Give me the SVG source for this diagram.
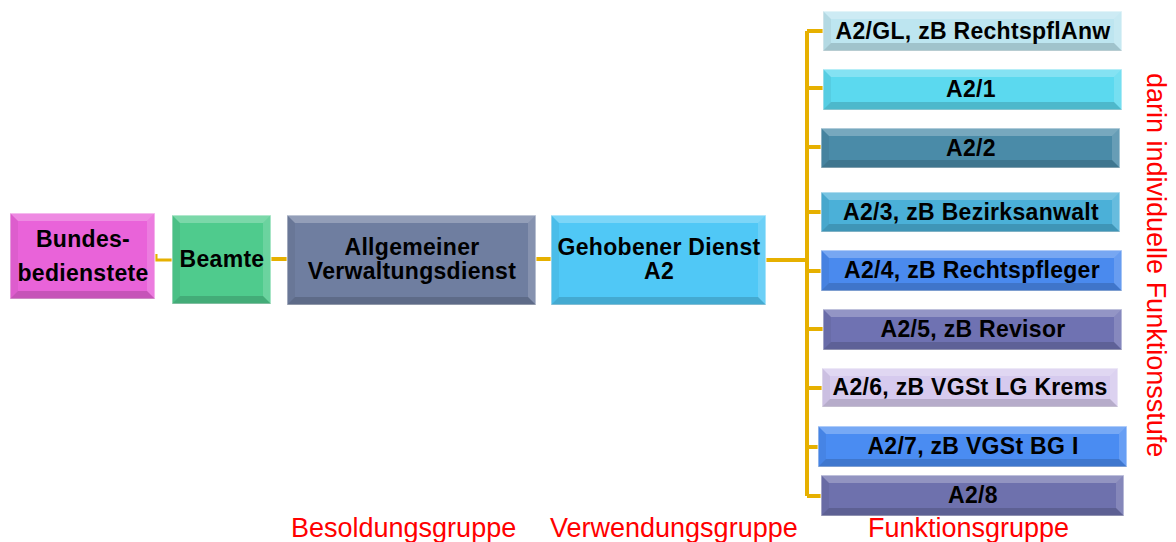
<svg xmlns="http://www.w3.org/2000/svg" width="1176" height="542" viewBox="0 0 1176 542">
<style>
.bx{stroke:#ffffff;stroke-opacity:.55;stroke-width:1.5}
.t{fill:#fff;fill-opacity:.25}
.r{fill:#fff;fill-opacity:.16}
.l{fill:#000;fill-opacity:.05}
.b{fill:#000;fill-opacity:.15}
.lbl{font-family:"Liberation Sans",Arial,sans-serif;font-weight:bold;font-size:23px;letter-spacing:0.3px;fill:#000;text-anchor:middle}
.red{font-family:"Liberation Sans",Arial,sans-serif;font-size:27px;fill:#ff0000}
.con{fill:none;stroke:#e6b000;stroke-width:4}
</style>
<rect width="1176" height="542" fill="#ffffff"/>
<g id="connectors">
<path class="con" d="M807 31 V496 M807 31 H823 M807 88 H823 M807 147 H821 M807 212 H821 M807 271 H821 M807 329 H823 M807 388 H822 M807 447 H818 M807 496 H821 M766 260 H807 M536 259 H551 M271 259 H287"/>
<path class="con" style="stroke-width:3" d="M156 254 V260 H172"/>
</g>
<g id="bundesbedienstete">
<rect class="bx" x="10" y="213" width="145" height="86" fill="#e963d9"/>
<polygon class="t" points="10,213 155,213 147,221 18,221"/><polygon class="r" points="155,213 155,299 147,291 147,221"/><polygon class="b" points="10,299 155,299 147,291 18,291"/><polygon class="l" points="10,213 10,299 18,291 18,221"/>
<text class="lbl" x="83" y="247">Bundes-</text><text class="lbl" x="83" y="281">bedienstete</text>
</g>
<g id="beamte">
<rect class="bx" x="172" y="215" width="99" height="89" fill="#4fcb8d"/>
<polygon class="t" points="172,215 271,215 263,223 180,223"/><polygon class="r" points="271,215 271,304 263,296 263,223"/><polygon class="b" points="172,304 271,304 263,296 180,296"/><polygon class="l" points="172,215 172,304 180,296 180,223"/>
<text class="lbl" x="222" y="267">Beamte</text>
</g>
<g id="allgemeiner">
<rect class="bx" x="287" y="215" width="249" height="90" fill="#6f7ea0"/>
<polygon class="t" points="287,215 536,215 528,223 295,223"/><polygon class="r" points="536,215 536,305 528,297 528,223"/><polygon class="b" points="287,305 536,305 528,297 295,297"/><polygon class="l" points="287,215 287,305 295,297 295,223"/>
<text class="lbl" x="412" y="255">Allgemeiner</text><text class="lbl" x="412" y="279">Verwaltungsdienst</text>
</g>
<g id="gehobener">
<rect class="bx" x="551" y="215" width="215" height="90" fill="#50c8f6"/>
<polygon class="t" points="551,215 766,215 758,223 559,223"/><polygon class="r" points="766,215 766,305 758,297 758,223"/><polygon class="b" points="551,305 766,305 758,297 559,297"/><polygon class="l" points="551,215 551,305 559,297 559,223"/>
<text class="lbl" x="659" y="255">Gehobener Dienst</text><text class="lbl" x="659" y="279">A2</text>
</g>
<g id="a2gl">
<rect class="bx" x="823" y="11" width="299" height="40" fill="#bde5f0"/>
<polygon class="t" points="823,11 1122,11 1114,19 831,19"/><polygon class="r" points="1122,11 1122,51 1114,43 1114,19"/><polygon class="b" points="823,51 1122,51 1114,43 831,43"/><polygon class="l" points="823,11 823,51 831,43 831,19"/>
<text class="lbl" x="973" y="39">A2/GL, zB RechtspflAnw</text>
</g>
<g id="a21">
<rect class="bx" x="823" y="69" width="299" height="41" fill="#5bd9ef"/>
<polygon class="t" points="823,69 1122,69 1114,77 831,77"/><polygon class="r" points="1122,69 1122,110 1114,102 1114,77"/><polygon class="b" points="823,110 1122,110 1114,102 831,102"/><polygon class="l" points="823,69 823,110 831,102 831,77"/>
<text class="lbl" x="971" y="97">A2/1</text>
</g>
<g id="a22">
<rect class="bx" x="821" y="128" width="299" height="40" fill="#4a8ba8"/>
<polygon class="t" points="821,128 1120,128 1112,136 829,136"/><polygon class="r" points="1120,128 1120,168 1112,160 1112,136"/><polygon class="b" points="821,168 1120,168 1112,160 829,160"/><polygon class="l" points="821,128 821,168 829,160 829,136"/>
<text class="lbl" x="971" y="156">A2/2</text>
</g>
<g id="a23">
<rect class="bx" x="821" y="192" width="299" height="40" fill="#4bb0d8"/>
<polygon class="t" points="821,192 1120,192 1112,200 829,200"/><polygon class="r" points="1120,192 1120,232 1112,224 1112,200"/><polygon class="b" points="821,232 1120,232 1112,224 829,224"/><polygon class="l" points="821,192 821,232 829,224 829,200"/>
<text class="lbl" x="971" y="220">A2/3, zB Bezirksanwalt</text>
</g>
<g id="a24">
<rect class="bx" x="821" y="250" width="301" height="41" fill="#4a8aee"/>
<polygon class="t" points="821,250 1122,250 1114,258 829,258"/><polygon class="r" points="1122,250 1122,291 1114,283 1114,258"/><polygon class="b" points="821,291 1122,291 1114,283 829,283"/><polygon class="l" points="821,250 821,291 829,283 829,258"/>
<text class="lbl" x="972" y="278">A2/4, zB Rechtspfleger</text>
</g>
<g id="a25">
<rect class="bx" x="823" y="309" width="299" height="41" fill="#6f72b2"/>
<polygon class="t" points="823,309 1122,309 1114,317 831,317"/><polygon class="r" points="1122,309 1122,350 1114,342 1114,317"/><polygon class="b" points="823,350 1122,350 1114,342 831,342"/><polygon class="l" points="823,309 823,350 831,342 831,317"/>
<text class="lbl" x="973" y="337">A2/5, zB Revisor</text>
</g>
<g id="a26">
<rect class="bx" x="822" y="368" width="296" height="39" fill="#d6caee"/>
<polygon class="t" points="822,368 1118,368 1110,376 830,376"/><polygon class="r" points="1118,368 1118,407 1110,399 1110,376"/><polygon class="b" points="822,407 1118,407 1110,399 830,399"/><polygon class="l" points="822,368 822,407 830,399 830,376"/>
<text class="lbl" x="970" y="395">A2/6, zB VGSt LG Krems</text>
</g>
<g id="a27">
<rect class="bx" x="818" y="426" width="309" height="41" fill="#4a8cf2"/>
<polygon class="t" points="818,426 1127,426 1119,434 826,434"/><polygon class="r" points="1127,426 1127,467 1119,459 1119,434"/><polygon class="b" points="818,467 1127,467 1119,459 826,459"/><polygon class="l" points="818,426 818,467 826,459 826,434"/>
<text class="lbl" x="973" y="454">A2/7, zB VGSt BG I</text>
</g>
<g id="a28">
<rect class="bx" x="821" y="475" width="303" height="41" fill="#6e71ad"/>
<polygon class="t" points="821,475 1124,475 1116,483 829,483"/><polygon class="r" points="1124,475 1124,516 1116,508 1116,483"/><polygon class="b" points="821,516 1124,516 1116,508 829,508"/><polygon class="l" points="821,475 821,516 829,508 829,483"/>
<text class="lbl" x="973" y="503">A2/8</text>
</g>
<g id="labels">
<text class="red" x="291" y="537">Besoldungsgruppe</text>
<text class="red" x="550" y="537">Verwendungsgruppe</text>
<text class="red" x="868" y="537">Funktionsgruppe</text>
<text class="red" transform="translate(1147,73) rotate(90)">darin individuelle Funktionsstufe</text>
</g>
</svg>
